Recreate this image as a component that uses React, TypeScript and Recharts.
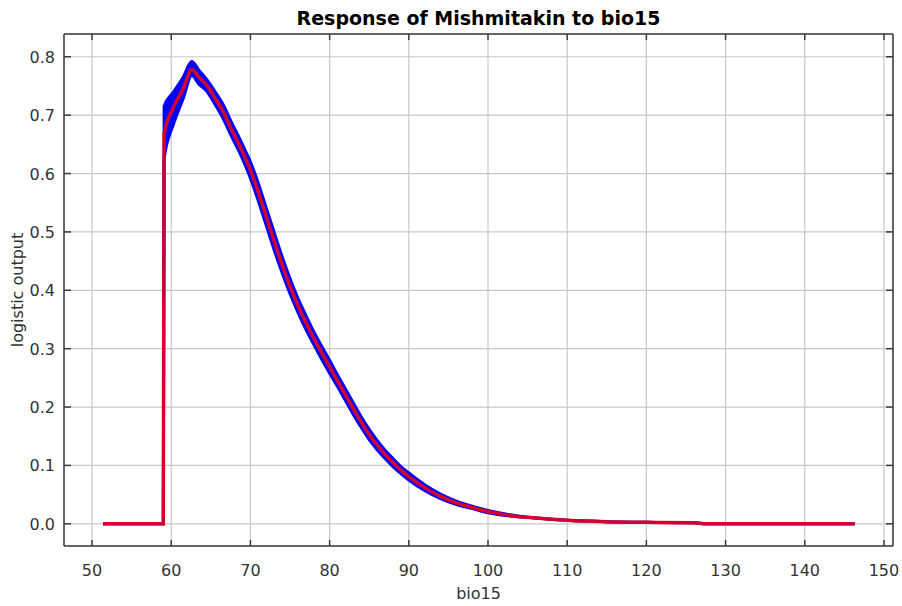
// Courbe de réponse Maxent : moyenne (rouge) et dispersion des réplicats (bleu).
import { Area, CartesianGrid, ComposedChart, Line, XAxis, YAxis } from "recharts";

const bioValues = [
  51.4, 55, 59.0, 59.1, 60.3, 61.5, 62.6, 63.5, 64.5, 65.5, 66.6, 67.6, 68.7, 69.5, 70, 71, 72, 72.5, 73, 74, 75, 76,
  77, 78, 79, 80, 81, 82, 83, 84, 85, 86, 87, 88, 89, 90, 92, 94, 96, 98, 100, 103, 106, 110, 115, 120, 126, 127.5,
  135, 146.3,
];
const meanValues = [
  0, 0, 0, 0.668, 0.714, 0.745, 0.778, 0.765, 0.751, 0.73, 0.705, 0.676, 0.646, 0.622, 0.606, 0.568, 0.526, 0.505,
  0.484, 0.444, 0.407, 0.374, 0.345, 0.318, 0.293, 0.269, 0.245, 0.221, 0.197, 0.174, 0.153, 0.135, 0.119, 0.105,
  0.092, 0.081, 0.062, 0.047, 0.036, 0.028, 0.021, 0.014, 0.01, 0.006, 0.0035, 0.0025, 0.002, 0, 0, 0,
];
const spreadValues = [
  0, 0, 0, 0, 0, 0, 0, 0.012, 0.01, 0.011, 0.012, 0.012, 0.012, 0.013, 0.014, 0.015, 0.015, 0.015, 0.015, 0.014,
  0.013, 0.012, 0.012, 0.011, 0.011, 0.011, 0.01, 0.01, 0.01, 0.009, 0.009, 0.008, 0.007, 0.007, 0.006, 0.006, 0.005,
  0.004, 0.003, 0.002, 0.002, 0.001, 0, 0, 0, 0, 0, 0, 0, 0,
];
// bornes lues directement autour du saut et du pic
const jumpLower = [0.625, 0.685, 0.728, 0.768];
const jumpUpper = [0.715, 0.74, 0.765, 0.792];
const xTicks = [50, 60, 70, 80, 90, 100, 110, 120, 130, 140, 150];
const yTicks = [0, 0.1, 0.2, 0.3, 0.4, 0.5, 0.6, 0.7, 0.8];

const data = bioValues.map((bio, i) => {
  const j = i - 3;
  const lo = j >= 0 && j < jumpLower.length ? jumpLower[j] : meanValues[i] - spreadValues[i];
  const hi = j >= 0 && j < jumpUpper.length ? jumpUpper[j] : meanValues[i] + spreadValues[i];
  return { bio, mean: meanValues[i], band: [lo, hi] };
});

const FONT = "'DejaVu Sans', sans-serif";
const FRAME = "#3c3c3c";
const GRID = "#c8c8c8";
const TXT = "#333333";
const XDOM = [46.46, 151.14];
const YDOM = [-0.038, 0.839];

if (typeof document !== "undefined") document.body.style.margin = "0";

function BottomTick({ x, y, payload }: any) {
  return (
    <g>
      <line x1={x} x2={x} y1={y} y2={y - 6} stroke={FRAME} strokeWidth={1.5} />
      <text x={x} y={y + 30} textAnchor="middle" fill={TXT} fontSize={16} fontFamily={FONT}>
        {payload.value}
      </text>
    </g>
  );
}
function TopTick({ x, y }: any) {
  return <line x1={x} x2={x} y1={y} y2={y + 6} stroke={FRAME} strokeWidth={1.5} />;
}
function LeftTick({ x, y, payload }: any) {
  return (
    <g>
      <line x1={x} x2={x + 7} y1={y} y2={y} stroke={FRAME} strokeWidth={1.5} />
      <text x={x - 9} y={y + 6} textAnchor="end" fill={TXT} fontSize={16} fontFamily={FONT}>
        {Number(payload.value).toFixed(1)}
      </text>
    </g>
  );
}
function RightTick({ x, y }: any) {
  return <line x1={x} x2={x - 7} y1={y} y2={y} stroke={FRAME} strokeWidth={1.5} />;
}

const axisCommon = {
  type: "number" as const,
  allowDataOverflow: true,
  tickSize: 0,
  tickMargin: 0,
  tickLine: false,
  interval: 0 as const,
  axisLine: { stroke: FRAME, strokeWidth: 1.5 },
};

export default function App() {
  return (
    <div style={{ position: "relative", width: 902, height: 606, background: "#fff" }}>
      <ComposedChart width={902} height={606} data={data} margin={{ top: 33, right: 8, bottom: 30, left: 24 }}>
        <CartesianGrid stroke={GRID} strokeWidth={1.2} />
        <XAxis {...axisCommon} dataKey="bio" domain={XDOM} ticks={xTicks} height={30} tick={BottomTick} />
        <XAxis
          {...axisCommon}
          xAxisId="top"
          orientation="top"
          dataKey="bio"
          domain={XDOM}
          ticks={xTicks}
          height={1}
          tick={TopTick}
        />
        <YAxis {...axisCommon} domain={YDOM} ticks={yTicks} width={40} tick={LeftTick} />
        <YAxis
          {...axisCommon}
          yAxisId="right"
          orientation="right"
          domain={YDOM}
          ticks={yTicks}
          width={1}
          tick={RightTick}
        />
        <Area
          type="monotone"
          dataKey="band"
          stroke="#0000ff"
          strokeWidth={3}
          fill="#0000ff"
          fillOpacity={1}
          isAnimationActive={false}
        />
        <Line
          type="monotone"
          dataKey="mean"
          stroke="#ff0000"
          strokeOpacity={0.82}
          strokeWidth={3.5}
          dot={false}
          isAnimationActive={false}
        />
      </ComposedChart>
      <div
        style={{
          position: "absolute",
          left: 64,
          width: 829,
          top: 7,
          textAlign: "center",
          fontFamily: FONT,
          fontWeight: "bold",
          fontSize: 19,
          color: "#000",
          lineHeight: "22px",
        }}
      >
        Response of Mishmitakin to bio15
      </div>
      <div
        style={{
          position: "absolute",
          left: 64,
          width: 829,
          top: 584,
          textAlign: "center",
          fontFamily: FONT,
          fontSize: 16,
          color: TXT,
          lineHeight: "20px",
        }}
      >
        bio15
      </div>
      <div
        style={{
          position: "absolute",
          left: 18,
          top: 290,
          transform: "translate(-50%, -50%) rotate(-90deg)",
          whiteSpace: "nowrap",
          fontFamily: FONT,
          fontSize: 16,
          color: TXT,
          lineHeight: "20px",
        }}
      >
        logistic output
      </div>
    </div>
  );
}
